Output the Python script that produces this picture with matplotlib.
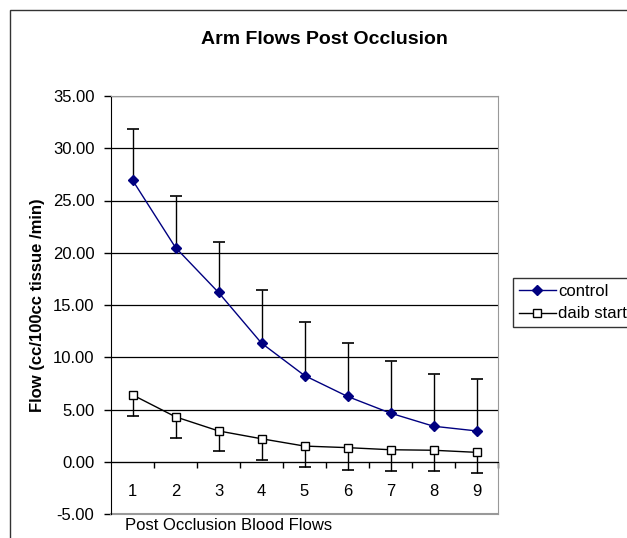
import matplotlib
matplotlib.use("Agg")
import matplotlib.pyplot as plt
from matplotlib.patches import Rectangle
from matplotlib.ticker import FixedLocator, FormatStrFormatter

plt.rcParams["font.family"] = ["Liberation Sans", "DejaVu Sans"]

# data
flows = [1, 2, 3, 4, 5, 6, 7, 8, 9]
control = [26.95, 20.5, 16.2, 11.35, 8.25, 6.25, 4.65, 3.4, 2.95]
control_err = [4.9, 4.9, 4.85, 5.1, 5.15, 5.15, 5.0, 5.0, 5.0]
daib = [6.4, 4.3, 2.95, 2.2, 1.5, 1.35, 1.15, 1.1, 0.9]
daib_err = [2.0, 2.0, 1.95, 2.0, 2.0, 2.1, 2.05, 2.0, 2.0]
y_ticks = [-5, 0, 5, 10, 15, 20, 25, 30, 35]

W, H = 627, 538
fig = plt.figure(figsize=(W / 100, H / 100), dpi=100)

# outer chart frame (runs off the right and bottom edges)
fig.patches.append(Rectangle((10 / W, -0.2), 1.5, 1.2 - 10 / H, transform=fig.transFigure,
                             fill=False, edgecolor="#333333", lw=1.0))

ax = fig.add_axes([111 / W, 1 - 514 / H, (498 - 111) / W, (514 - 96) / H])

# error bars (control: plus only, daib: minus only)
ctop = [c + e for c, e in zip(control, control_err)]
dbot = [d - e for d, e in zip(daib, daib_err)]
ax.vlines(flows, control, ctop, color="black", lw=1.0, zorder=3)
ax.plot(flows, ctop, ls="none", marker="_", ms=9, mew=1.2, color="black", zorder=3)
ax.vlines(flows, dbot, daib, color="black", lw=1.0, zorder=3)
ax.plot(flows, dbot, ls="none", marker="_", ms=9, mew=1.2, color="black", zorder=3)

ax.plot(flows, control, color="#000080", lw=1.0, marker="D", ms=5,
        mfc="#000080", mec="#000080", label="control", zorder=4)
ax.plot(flows, daib, color="black", lw=1.0, marker="s", ms=5.5,
        mfc="white", mec="black", mew=1.0, label="daib start", zorder=4)

ax.set_xlim(0.5, 9.5)
ax.set_ylim(-5, 35)
ax.yaxis.set_major_locator(FixedLocator(y_ticks))
ax.yaxis.set_major_formatter(FormatStrFormatter("%.2f"))
ax.grid(axis="y", color="black", lw=0.9)
ax.set_axisbelow(True)

# plot area border
for s in ["top", "right"]:
    ax.spines[s].set_color("#999999")
ax.spines["left"].set_color("black")
ax.spines["bottom"].set_position(("data", 0))
ax.spines["bottom"].set_color("black")
ax.plot([0, 1], [0, 0], transform=ax.transAxes, color="#999999", lw=1.5, clip_on=False)

ax.set_xticks(flows)
ax.set_xticks([1.5 + i for i in range(8)] + [9.5], minor=True)
ax.tick_params(axis="x", which="major", length=0, pad=16, labelsize=12)
ax.tick_params(axis="x", which="minor", length=4, direction="out", width=1)
ax.tick_params(axis="y", length=5, direction="out", width=1, pad=7, labelsize=12)

fig.text(324 / W, 1 - 40 / H, "Arm Flows Post Occlusion", ha="center", va="center",
         fontsize=14, fontweight="bold")
fig.text(38 / W, 1 - 305 / H, "Flow (cc/100cc tissue /min)", ha="center", va="center",
         rotation=90, fontsize=12, fontweight="bold")
fig.text(125 / W, 1 - 525 / H, "Post Occlusion Blood Flows", ha="left", va="center",
         fontsize=12)

leg = fig.legend(loc="upper left", bbox_to_anchor=(513 / W, 1 - 278 / H),
                 fontsize=12, frameon=True, fancybox=False, handlelength=2.2,
                 handletextpad=0.15, labelspacing=0.45, borderpad=0.35,
                 borderaxespad=0)
leg.get_frame().set_edgecolor("black")
leg.get_frame().set_linewidth(1.0)

fig.savefig("out.png", dpi=100)
